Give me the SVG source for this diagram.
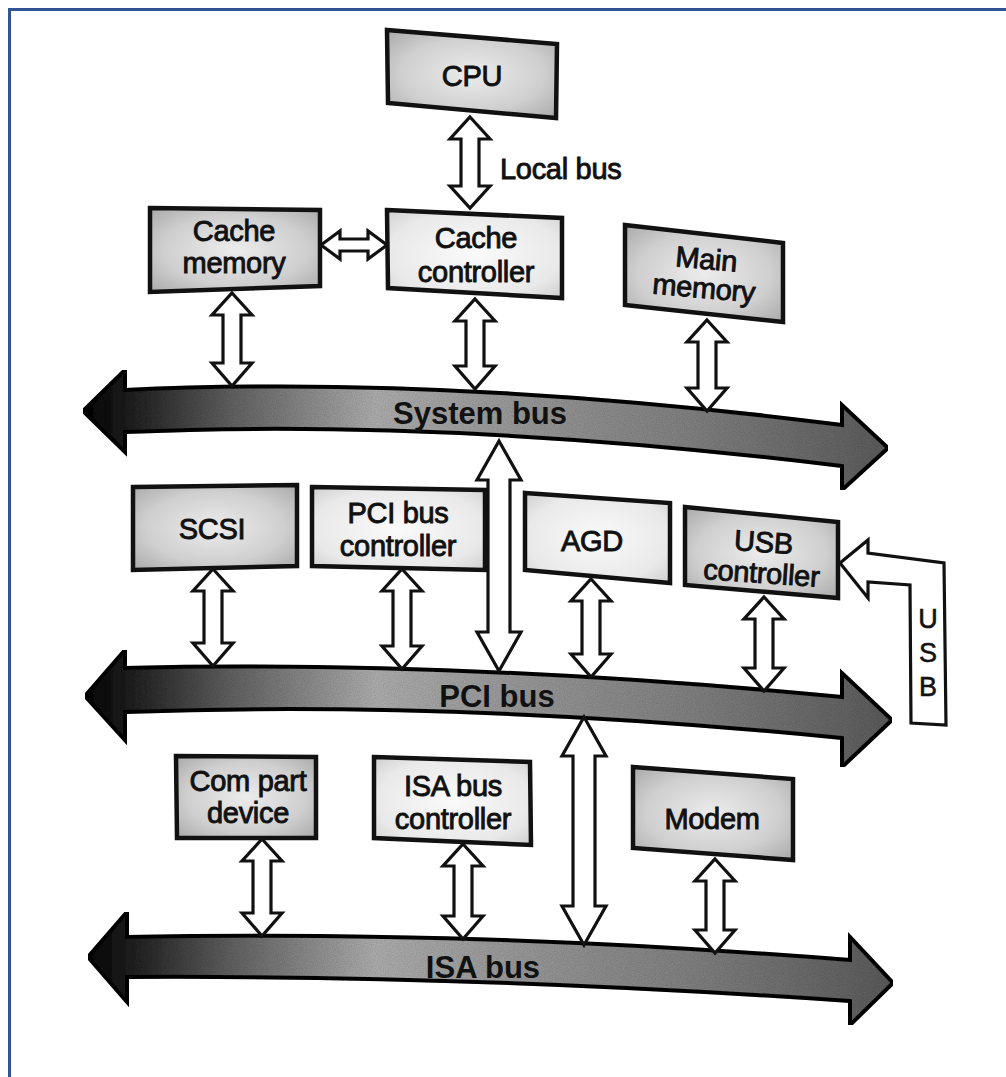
<svg xmlns="http://www.w3.org/2000/svg" width="1006" height="1077" viewBox="0 0 1006 1077">
<defs>
<style>
.box{stroke:#111;stroke-width:4.5;stroke-linejoin:miter}
.dark{fill:url(#gDark)}
.light{fill:url(#gLight)}
.lbl{font-family:"Liberation Sans",Arial,sans-serif;font-size:29px;fill:#111;stroke:#111;stroke-width:0.9;text-anchor:middle;letter-spacing:-0.3px}
.bus{font-family:"Liberation Sans",Arial,sans-serif;font-size:31px;font-weight:bold;fill:#111;text-anchor:middle}
.arr{fill:#fff;stroke:#111;stroke-width:3.2;stroke-linejoin:miter}
.busband{stroke:#111;stroke-width:4;stroke-linejoin:miter}
</style>
<radialGradient id="gDark" cx="0.5" cy="0.5" r="0.7">
<stop offset="0" stop-color="#ececec"/>
<stop offset="0.6" stop-color="#cfcfcf"/>
<stop offset="1" stop-color="#a9a9a9"/>
</radialGradient>
<radialGradient id="gLight" cx="0.5" cy="0.5" r="0.7">
<stop offset="0" stop-color="#fafafa"/>
<stop offset="0.7" stop-color="#e9e9e9"/>
<stop offset="1" stop-color="#cfcfcf"/>
</radialGradient>
<linearGradient id="gBus" gradientUnits="userSpaceOnUse" x1="83" y1="0" x2="893" y2="0">
<stop offset="0" stop-color="#0d0d0d"/>
<stop offset="0.06" stop-color="#222"/>
<stop offset="0.18" stop-color="#636363"/>
<stop offset="0.36" stop-color="#b3b3b3"/>
<stop offset="0.5" stop-color="#a2a2a2"/>
<stop offset="0.75" stop-color="#858585"/>
<stop offset="1" stop-color="#5e5e5e"/>
</linearGradient>
<filter id="grain" x="0" y="0" width="1" height="1">
<feTurbulence type="fractalNoise" baseFrequency="0.9" numOctaves="2" seed="3" result="n"/>
<feColorMatrix in="n" type="matrix" values="0 0 0 0 0  0 0 0 0 0  0 0 0 0 0  0 0 0 0.35 0" result="na"/>
<feComposite in="na" in2="SourceGraphic" operator="in" result="nm"/>
<feMerge><feMergeNode in="SourceGraphic"/><feMergeNode in="nm"/></feMerge>
</filter>
</defs>
<rect width="1006" height="1077" fill="#fff"/>
<g id="frame" fill="#2f5597">
<rect x="8" y="8" width="998" height="3"/>
<rect x="8" y="8" width="3" height="1069"/>
</g>

<g id="connectors">
<g id="system-bus">
<path class="busband" fill="url(#gBus)" filter="url(#grain)" d="M83,411 L125,370 L125,390 Q450,375 842,425 L842,405 L888,448 L842,490 L842,466 Q450,418 125,432 L125,452 Z"/>
<text class="bus" x="480" y="424">System bus</text>
</g>
<g id="pci-bus">
<path class="busband" fill="url(#gBus)" filter="url(#grain)" d="M85,696 L125,650 L125,668 Q460,660 842,697 L842,673 L892,720 L842,767 L842,738 Q460,700 125,712 L125,740 Z"/>
<text class="bus" x="497" y="707">PCI  bus</text>
</g>
<g id="isa-bus">
<path class="busband" fill="url(#gBus)" filter="url(#grain)" d="M88,957 L127,912 L127,937 Q470,930 850,960 L850,937 L893,983 L850,1025 L850,1001 Q470,975 127,977 L127,1002 Z"/>
<text class="bus" x="483" y="978">ISA bus</text>
</g>
<!-- local bus -->
<polygon class="arr" points="470,117 490,139 479,139 479,186 490,186 470,208 450,186 461,186 461,139 450,139"/>
<text x="500" y="179" font-family="Liberation Sans,Arial,sans-serif" font-size="29" fill="#111" stroke="#111" stroke-width="0.9" letter-spacing="-0.3">Local bus</text>
<!-- cache memory <-> cache controller -->
<polygon class="arr" points="321,245 340,231 340,239 368,239 368,231 387,245 368,259 368,251 340,251 340,259"/>
<!-- to system bus -->
<polygon class="arr" points="232,293 252,315 241,315 241,363 252,363 232,386 212,363 223,363 223,315 212,315"/>
<polygon class="arr" points="475,299 495,321 484,321 484,366 495,366 475,389 455,366 466,366 466,321 455,321"/>
<polygon class="arr" points="707,320 727,342 716,342 716,388 727,388 707,411 687,388 698,388 698,342 687,342"/>
<!-- system bus to PCI bus -->
<polygon class="arr" points="499,441 521,480 510,480 510,632 521,632 499,671 477,632 488,632 488,480 477,480"/>
<!-- PCI level -->
<polygon class="arr" points="213,569 233,591 222,591 222,643 233,643 213,666 193,643 204,643 204,591 193,591"/>
<polygon class="arr" points="402,569 422,591 411,591 411,646 422,646 402,669 382,646 393,646 393,591 382,591"/>
<polygon class="arr" points="591,579 611,601 600,601 600,654 611,654 591,677 571,654 582,654 582,601 571,601"/>
<polygon class="arr" points="764,597 784,619 773,619 773,668 784,668 764,691 744,668 755,668 755,619 744,619"/>
<!-- USB input -->
<polygon class="arr" points="840,563 868,540 868,553 944,563 946,725 911,723 910,585 868,582 868,598"/>
<g font-family="Liberation Sans,Arial,sans-serif" font-size="27" fill="#111" stroke="#111" stroke-width="0.6" text-anchor="middle">
<text x="928" y="628">U</text>
<text x="928" y="662">S</text>
<text x="928" y="696">B</text>
</g>
<!-- PCI bus to ISA bus -->
<polygon class="arr" points="584,717 606,756 595,756 595,906 606,906 584,945 562,906 573,906 573,756 562,756"/>
<!-- ISA level -->
<polygon class="arr" points="262,839 282,861 271,861 271,913 282,913 262,936 242,913 253,913 253,861 242,861"/>
<polygon class="arr" points="463,844 483,866 472,866 472,916 483,916 463,939 443,916 454,916 454,866 443,866"/>
<polygon class="arr" points="715,859 735,881 724,881 724,930 735,930 715,953 695,930 706,930 706,881 695,881"/>
</g>

<g id="cpu">
<polygon class="box dark" points="387,30 557,44 556,118 388,103"/>
<text class="lbl" x="472" y="86">CPU</text>
</g>
<g id="cache-memory">
<polygon class="box dark" points="150,208 320,210 320,286 150,292"/>
<text class="lbl" x="234" y="241">Cache</text>
<text class="lbl" x="234" y="273">memory</text>
</g>
<g id="cache-controller">
<polygon class="box light" points="387,210 562,218 562,298 388,288"/>
<text class="lbl" x="476" y="248">Cache</text>
<text class="lbl" x="476" y="282">controller</text>
</g>
<g id="main-memory">
<polygon class="box dark" points="625,225 783,243 783,322 625,305"/>
<g transform="rotate(5 705 275)">
<text class="lbl" x="705" y="269">Main</text>
<text class="lbl" x="705" y="298">memory</text>
</g>
</g>
<g id="scsi">
<polygon class="box dark" points="133,487 297,485 297,566 133,570"/>
<text class="lbl" x="212" y="539">SCSI</text>
</g>
<g id="pci-bus-controller">
<polygon class="box light" points="312,487 485,490 485,570 312,566"/>
<text class="lbl" x="398" y="523">PCI bus</text>
<text class="lbl" x="398" y="556">controller</text>
</g>
<g id="agd">
<polygon class="box light" points="525,493 670,503 670,583 525,570"/>
<text class="lbl" x="592" y="551">AGD</text>
</g>
<g id="usb-controller">
<polygon class="box dark" points="685,507 838,522 838,598 685,585"/>
<g transform="rotate(4 762 565)">
<text class="lbl" x="762" y="552">USB</text>
<text class="lbl" x="762" y="583">controller</text>
</g>
</g>
<g id="com-part-device">
<polygon class="box dark" points="176,756 316,757 316,838 177,838"/>
<text class="lbl" x="248" y="791">Com part</text>
<text class="lbl" x="248" y="823">device</text>
</g>
<g id="isa-bus-controller">
<polygon class="box light" points="374,757 530,762 531,845 374,838"/>
<text class="lbl" x="453" y="796">ISA bus</text>
<text class="lbl" x="453" y="829">controller</text>
</g>
<g id="modem">
<polygon class="box dark" points="633,767 793,779 793,860 633,848"/>
<text class="lbl" x="712" y="829">Modem</text>
</g>
</svg>
